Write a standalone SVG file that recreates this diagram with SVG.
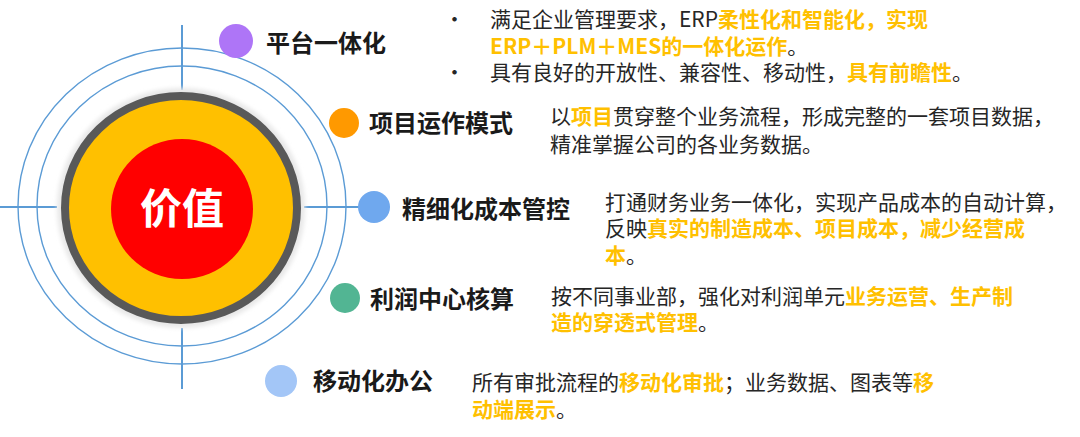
<svg xmlns="http://www.w3.org/2000/svg" width="1080" height="437" viewBox="0 0 1080 437">
<style>
.ring{fill:none;stroke:#5B9BD5;stroke-width:1.4}
.cross{stroke:#5B9BD5;stroke-width:2}
.title{font-family:"Noto Sans CJK SC","Noto Sans",sans-serif;font-weight:700;font-size:24px;fill:#1a1a1a}
.body{font-family:"Noto Sans CJK SC","Noto Sans",sans-serif;font-size:21px;fill:#262626}
.hl{fill:#FFC000;font-weight:700}
</style>
<defs>
<filter id="sh" x="-10%" y="-10%" width="120%" height="120%"><feGaussianBlur stdDeviation="2"/></filter>
</defs>
<rect width="1080" height="437" fill="#fff"/>
<g id="core">
<ellipse cx="182" cy="206" rx="164" ry="158" class="ring"/>
<ellipse cx="182" cy="206" rx="145" ry="140" class="ring"/>
<g id="connectors">
<line x1="182" y1="25" x2="182" y2="90" class="cross"/>
<line x1="182" y1="328" x2="182" y2="389" class="cross"/>
<line x1="0" y1="207" x2="57" y2="207" class="cross"/>
<line x1="304" y1="207" x2="362" y2="207" class="cross"/>
</g>
<ellipse cx="181" cy="208" rx="124" ry="120" fill="#e8e8e8" filter="url(#sh)"/>
<ellipse cx="181" cy="208" rx="116" ry="112" fill="#FFC000" stroke="#595959" stroke-width="8"/>
<ellipse cx="182" cy="209" rx="71" ry="70" fill="#FF0000"/>
<text x="182" y="224" text-anchor="middle" font-family="Noto Sans CJK SC,sans-serif" font-weight="700" font-size="42" fill="#fff">价值</text>
</g>
<g id="n1">
<circle cx="236" cy="41" r="17" fill="#AE75F7"/>
<text x="266" y="52" class="title">平台一体化</text>
<text x="444" y="27" class="body" font-size="24">•</text>
<text x="490" y="27" class="body">满足企业管理要求，ERP<tspan class="hl">柔性化和智能化，实现</tspan></text>
<text x="490" y="54" class="body"><tspan class="hl">ERP＋PLM＋MES的一体化运作</tspan>。</text>
<text x="444" y="80" class="body" font-size="24">•</text>
<text x="490" y="80" class="body">具有良好的开放性、兼容性、移动性，<tspan class="hl">具有前瞻性</tspan>。</text>
</g>
<g id="n2">
<circle cx="344" cy="123" r="15" fill="#FF9900"/>
<text x="369" y="132" class="title">项目运作模式</text>
<text x="550" y="124" class="body">以<tspan class="hl">项目</tspan>贯穿整个业务流程，形成完整的一套项目数据，</text>
<text x="550" y="152" class="body">精准掌握公司的各业务数据。</text>
</g>
<g id="n3">
<circle cx="374" cy="207" r="16" fill="#6FA8EE"/>
<text x="402" y="218" class="title">精细化成本管控</text>
<text x="605" y="210" class="body">打通财务业务一体化，实现产品成本的自动计算，</text>
<text x="605" y="236" class="body">反映<tspan class="hl">真实的制造成本、项目成本，减少经营成</tspan></text>
<text x="605" y="263" class="body"><tspan class="hl">本</tspan>。</text>
</g>
<g id="n4">
<circle cx="345" cy="298" r="15" fill="#52B593"/>
<text x="370" y="308" class="title">利润中心核算</text>
<text x="551" y="304" class="body">按不同事业部，强化对利润单元<tspan class="hl">业务运营、生产制</tspan></text>
<text x="551" y="330" class="body"><tspan class="hl">造的穿透式管理</tspan>。</text>
</g>
<g id="n5">
<circle cx="281" cy="381" r="16" fill="#A3C6F7"/>
<text x="313" y="390" class="title">移动化办公</text>
<text x="472" y="390" class="body">所有审批流程的<tspan class="hl">移动化审批</tspan>；业务数据、图表等<tspan class="hl">移</tspan></text>
<text x="472" y="417" class="body"><tspan class="hl">动端展示</tspan>。</text>
</g>
</svg>
